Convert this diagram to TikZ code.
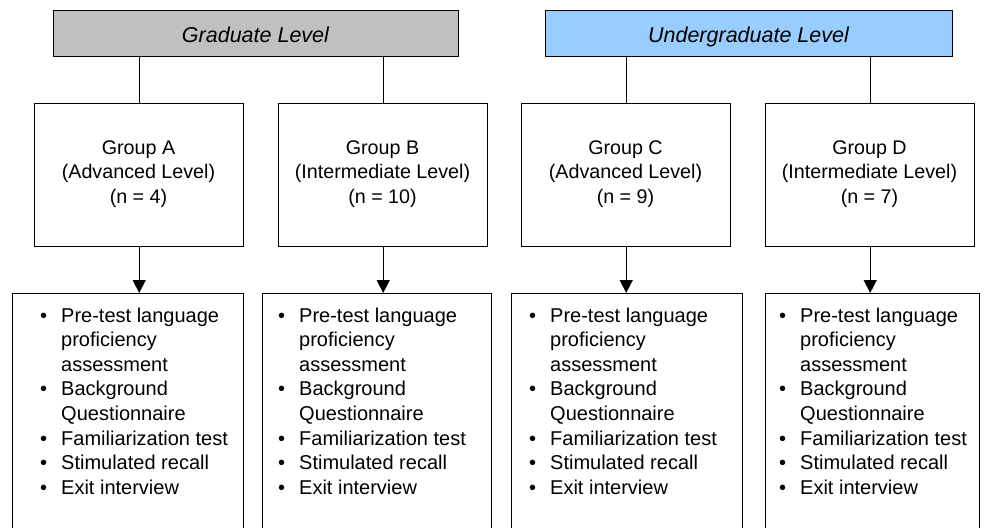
\documentclass[tikz,border=0pt]{standalone}
\usepackage{fontspec}
\setmainfont{Liberation Sans}
\usetikzlibrary{arrows.meta}
\definecolor{gradgray}{RGB}{192,192,192}
\definecolor{ugblue}{RGB}{153,204,255}
\tikzset{
  box/.style={draw=black, line width=1.4pt, inner sep=0pt, anchor=north west},
  grouptext/.style={align=center, font=\fontsize{19.7}{24.5}\selectfont, inner sep=0pt},
  titletext/.style={font=\fontsize{21.5}{24}\selectfont\itshape, inner sep=0pt, anchor=base},
  listtext/.style={font=\fontsize{20}{24.6}\selectfont, inner sep=0pt, anchor=base west},
  link/.style={line width=1.4pt},
  arr/.style={line width=1.4pt, -{Triangle[length=13pt,width=13pt]}}
}
\newcommand{\itemlist}{%
\begin{tabular}[t]{@{}l@{}l@{}}
\makebox[21pt][l]{\textbullet} & Pre-test language\\
 & proficiency\\
 & assessment\\
\makebox[21pt][l]{\textbullet} & Background\\
 & Questionnaire\\
\makebox[21pt][l]{\textbullet} & Familiarization test\\
\makebox[21pt][l]{\textbullet} & Stimulated recall\\
\makebox[21pt][l]{\textbullet} & Exit interview
\end{tabular}}
\begin{document}
\begin{tikzpicture}[x=1pt,y=-1pt]
\useasboundingbox (0,0) rectangle (984,527);
\clip (0,0) rectangle (984,527);
% title boxes
\node[box, fill=gradgray, minimum width=405pt, minimum height=46pt] (grad) at (53,10) {};
\node[box, fill=ugblue, minimum width=407pt, minimum height=46pt] (ug) at (545,10) {};
\node[titletext] (gradt) at (255.5,42) {Graduate Level};
\node[titletext] (ugt) at (748.5,42) {Undergraduate Level};
% group boxes
\node[box, minimum width=209pt, minimum height=143pt] (ga) at (34,103) {};
\node[box, minimum width=209pt, minimum height=143pt] (gb) at (278,103) {};
\node[box, minimum width=209pt, minimum height=143pt] (gc) at (521,103) {};
\node[box, minimum width=209pt, minimum height=143pt] (gd) at (765,103) {};
\node[grouptext] (gat) at (138.5,174) {Group A\\(Advanced Level)\\(n = 4)};
\node[grouptext] (gbt) at (382.5,174) {Group B\\(Intermediate Level)\\(n = 10)};
\node[grouptext] (gct) at (625.5,174) {Group C\\(Advanced Level)\\(n = 9)};
\node[grouptext] (gdt) at (869.5,174) {Group D\\(Intermediate Level)\\(n = 7)};
% list boxes
\node[box, minimum width=231pt, minimum height=260pt] (la) at (12,293) {};
\node[box, minimum width=229pt, minimum height=260pt] (lb) at (262,293) {};
\node[box, minimum width=231pt, minimum height=260pt] (lc) at (511,293) {};
\node[box, minimum width=214pt, minimum height=260pt] (ld) at (765,293) {};
\node[listtext] (lat) at (40,322) {\itemlist};
\node[listtext] (lbt) at (278,322) {\itemlist};
\node[listtext] (lct) at (529,322) {\itemlist};
\node[listtext] (ldt) at (779,322) {\itemlist};
% connectors
\draw[link] (grad.south -| ga.north) -- (ga.north);
\draw[link] (grad.south -| gb.north) -- (gb.north);
\draw[link] (ug.south -| gc.north) -- (gc.north);
\draw[link] (ug.south -| gd.north) -- (gd.north);
\draw[arr] (ga.south) -- (ga.south |- la.north);
\draw[arr] (gb.south) -- (gb.south |- lb.north);
\draw[arr] (gc.south) -- (gc.south |- lc.north);
\draw[arr] (gd.south) -- (gd.south |- ld.north);
\end{tikzpicture}
\end{document}
